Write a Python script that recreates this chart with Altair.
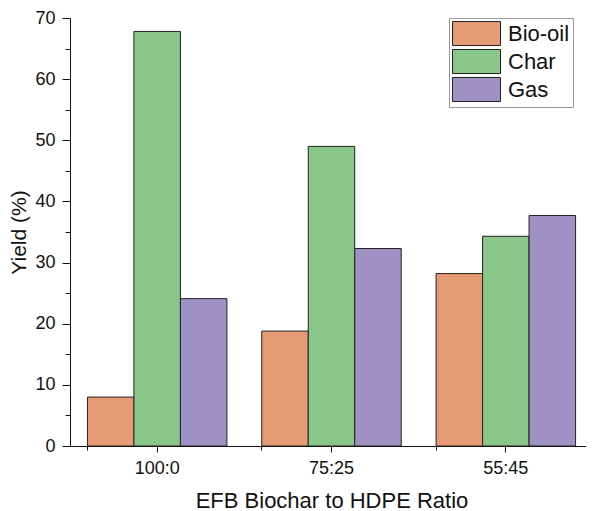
import altair as alt
import pandas as pd

categories = ["100:0", "75:25", "55:45"]
series = ["Bio-oil", "Char", "Gas"]
bio_oil = [8.0, 18.8, 28.2]
char = [67.8, 49.0, 34.3]
gas = [24.1, 32.3, 37.7]
colors = ["#E59B73", "#89C689", "#9F91C3"]
y_major = [0, 10, 20, 30, 40, 50, 60, 70]
y_minor = [5, 15, 25, 35, 45, 55, 65]

rows = []
for i, c in enumerate(categories):
    for s, vals in zip(series, [bio_oil, char, gas]):
        rows.append({"ratio": c, "product": s, "yield": vals[i]})
df = pd.DataFrame(rows)

FONT = "Liberation Sans"
xscale = alt.Scale(domain=categories, paddingInner=0.2, paddingOuter=0.1)
yscale = alt.Scale(domain=[0, 70], nice=False)
offscale = alt.Scale(domain=series, paddingInner=0, paddingOuter=0)

bars = alt.Chart(df).mark_bar(stroke="#222222", strokeWidth=1, opacity=1).encode(
    x=alt.X("ratio:N", scale=xscale, sort=categories,
            axis=alt.Axis(orient="bottom", title="EFB Biochar to HDPE Ratio", labelAngle=0,
                          tickSize=6, labelPadding=7, titlePadding=13,
                          labelFontSize=18, titleFontSize=22, labelFont=FONT, titleFont=FONT,
                          labelColor="#111", titleColor="#111", titleFontWeight="normal",
                          domainColor="#111", tickColor="#111", grid=False)),
    xOffset=alt.XOffset("product:N", sort=series, scale=offscale),
    y=alt.Y("yield:Q", scale=yscale,
            axis=alt.Axis(orient="left", title="Yield (%)", values=y_major, tickSize=8,
                          labelPadding=7, titlePadding=5, labelFontSize=18, titleFontSize=21,
                          labelFont=FONT, titleFont=FONT, labelColor="#111", titleColor="#111",
                          titleFontWeight="normal", domainColor="#111", tickColor="#111",
                          grid=False)),
    color=alt.Color("product:N", sort=series, scale=alt.Scale(domain=series, range=colors),
                    legend=alt.Legend(orient="none", legendX=379, legendY=0, title=None,
                                      symbolType="M-1,-1H3V1H-1Z", symbolSize=576,
                                      symbolStrokeColor="#222222", symbolStrokeWidth=1,
                                      symbolOpacity=1,
                                      labelFontSize=22, labelFont=FONT, labelColor="#111",
                                      labelOffset=31, rowPadding=-1, padding=3,
                                      strokeColor="#999999")),
)

minor = alt.Chart(df).mark_bar(opacity=0).encode(
    x=alt.X("ratio:N", scale=xscale, sort=categories,
            axis=alt.Axis(orient="bottom", title=None, labels=False, domain=False,
                          bandPosition=0, tickSize=4, tickColor="#111", grid=False)),
    xOffset=alt.XOffset("product:N", sort=series, scale=offscale),
    y=alt.Y("yield:Q", scale=yscale,
            axis=alt.Axis(orient="left", title=None, labels=False, domain=False,
                          values=y_minor, tickSize=5, tickColor="#111", grid=False)),
)

chart = alt.layer(bars, minor).resolve_axis(x="independent", y="independent").properties(
    width=523, height=428,
    autosize=alt.AutoSizeParams(type="none"),
    padding={"left": 62, "top": 10, "right": -7, "bottom": 72},
).configure_view(stroke="transparent")

chart.save("out.html", embed_options={"renderer": "svg", "actions": False})
